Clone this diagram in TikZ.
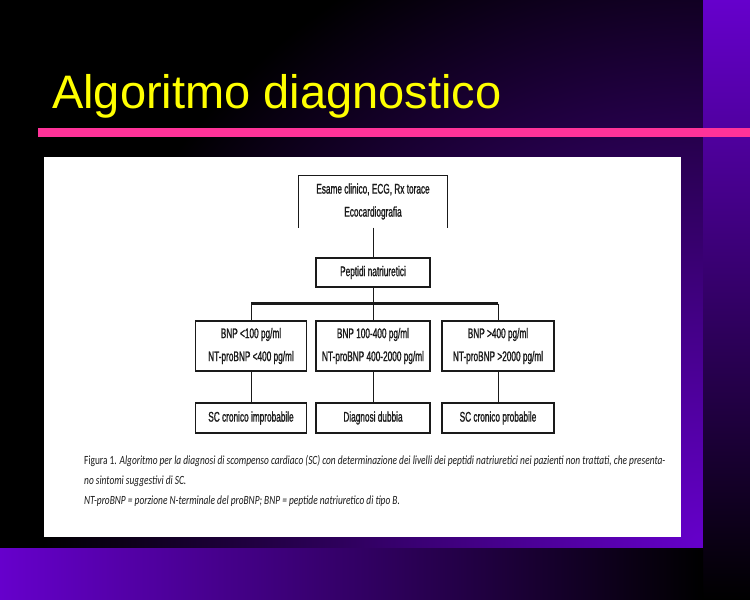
\documentclass[tikz,border=0pt]{standalone}
\usepackage{fontspec}
\usepackage{xcolor}
\usepackage{tikz}
\usetikzlibrary{calc,positioning}
\newfontfamily\titlefont{Liberation Sans}
\newfontfamily\chartfont[FakeStretch=0.59,FakeBold=1]{Liberation Sans}
\newfontfamily\capfont[FakeStretch=0.75]{Carlito}
\definecolor{slidepurple}{HTML}{6600CC}
\definecolor{rulepink}{HTML}{FF3399}
\definecolor{titleyellow}{HTML}{FFFF00}
\definecolor{ink}{HTML}{1A1A1A}
\tikzset{
  stage/.style={
    draw=ink,
    line width=1.2pt,
    fill=white,
    align=center,
    inner sep=0pt,
    text=ink,
    font=\chartfont\fontsize{14}{23}\selectfont
  },
  wire/.style={draw=ink, line width=1pt},
  frame/.style={wire, line width=1.2pt},
  busbar/.style={draw=ink, line width=2.4pt},
  slidetitle/.style={font=\titlefont\fontsize{47}{56}\selectfont, text=titleyellow, inner sep=0pt},
  caption/.style={font=\capfont\itshape\fontsize{12.5}{20}\selectfont, text=ink, align=left, inner sep=0pt}
}

\begin{document}
\begin{tikzpicture}[x=1pt,y=-1pt]
\path[use as bounding box] (0,0) rectangle (750,600);
\fill[black] (0,0) rectangle (703,548);
\begin{scope}
  \clip (0,0) rectangle (703,548);
  \shade[inner color=slidepurple, outer color=black] (703,548) circle (660);
\end{scope}
\shade[top color=slidepurple, middle color=slidepurple!85!black, bottom color=black] (703,0) rectangle (750,600);
\shade[left color=slidepurple, middle color=slidepurple!85!black, right color=black] (0,548) rectangle (703,600);
\fill[rulepink] (38,128) rectangle (750,137);
\fill[white] (44,157) rectangle (681,537);

\node[slidetitle, anchor=base west] (title) at (52,108) {Algoritmo diagnostico};

\node[stage, draw=none, fill=none, minimum width=148, minimum height=51] (exam) at (373,201.5)
  {Esame clinico, ECG, Rx torace\\Ecocardiografia};
\draw[frame] (exam.south west) |- (exam.north) -| (exam.south east);
\node[stage, minimum width=114, minimum height=29] (peptides) at (373,272.5) {Peptidi natriuretici};

\node[stage, minimum width=111, minimum height=50] (low) at (251,346) {BNP <100 pg/ml\\NT-proBNP <400 pg/ml};
\node[stage, minimum width=114, minimum height=50] (mid) at (373,346) {BNP 100-400 pg/ml\\NT-proBNP 400-2000 pg/ml};
\node[stage, minimum width=112, minimum height=50] (high) at (498,346) {BNP >400 pg/ml\\NT-proBNP >2000 pg/ml};

\node[stage, minimum width=111, minimum height=30] (lowout) at (251,418) {SC cronico improbabile};
\node[stage, minimum width=114, minimum height=30] (midout) at (373,418) {Diagnosi dubbia};
\node[stage, minimum width=112, minimum height=30] (highout) at (498,418) {SC cronico probabile};

\coordinate (bus) at (373,303.5);
\draw[wire] (exam.south) -- (peptides.north);
\draw[wire] (peptides.south) -- (mid.north);
\draw[busbar] (low.north |- bus) -- (high.north |- bus);
\draw[wire] (low.north |- bus) -- (low.north);
\draw[wire] (high.north |- bus) -- (high.north);
\foreach \a/\b in {low/lowout, mid/midout, high/highout}
  \draw[wire] (\a.south) -- (\b.north);

\node[caption, anchor=north west] (legend) at (84,455)
  {{\upshape Figura 1.} Algoritmo per la diagnosi di scompenso cardiaco (SC) con determinazione dei livelli dei peptidi natriuretici nei pazienti non trattati, che presenta-\\
   no sintomi suggestivi di SC.\\
   NT-proBNP = porzione N-terminale del proBNP; BNP = peptide natriuretico di tipo B.};
\end{tikzpicture}
\end{document}
